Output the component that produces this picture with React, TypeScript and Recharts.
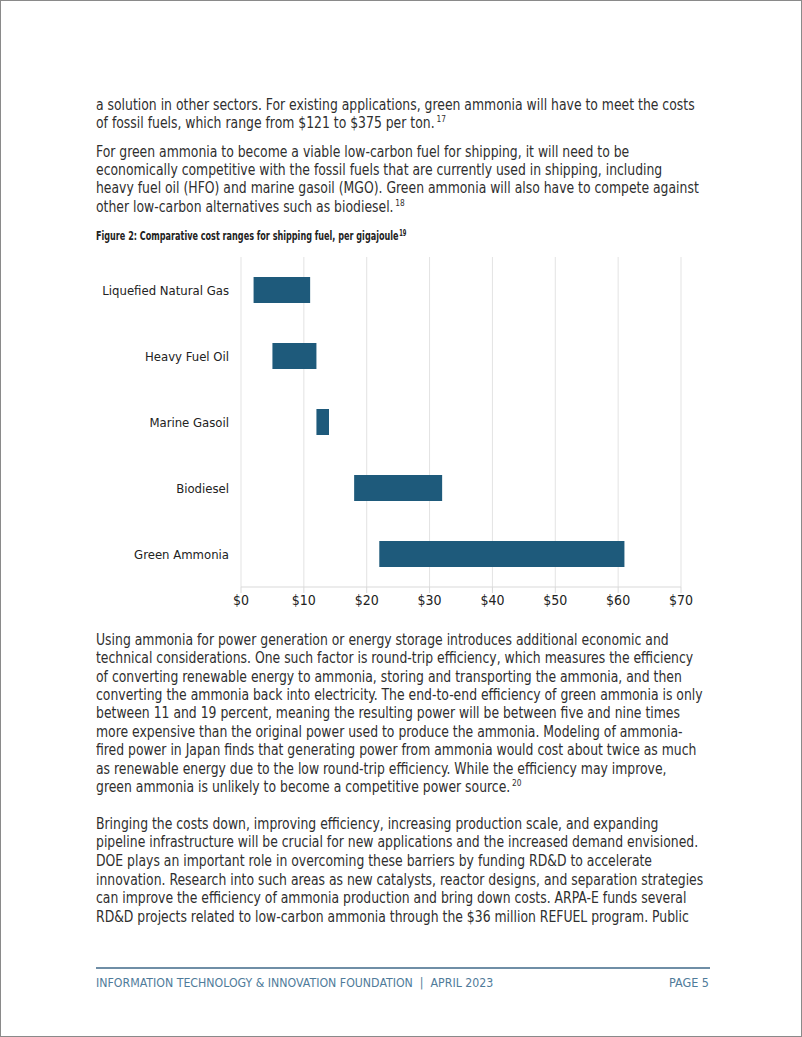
import React from "react";
import { BarChart, Bar, XAxis, YAxis, CartesianGrid } from "recharts";

// chart values ($ per gigajoule, low to high)
const fuels = ["Liquefied Natural Gas", "Heavy Fuel Oil", "Marine Gasoil", "Biodiesel", "Green Ammonia"];
const lowCost = [2, 5, 12, 18, 22];
const highCost = [11, 12, 14, 32, 61];
const xTicks = [0, 10, 20, 30, 40, 50, 60, 70];

const data = fuels.map((name, i) => ({ name, range: [lowCost[i], highCost[i]] }));

const FONT = "'Liberation Sans Narrow', 'DejaVu Sans Condensed', Roboto, sans-serif";
const TEXT = "#2f2f2f";

const para1 = [
  "a solution in other sectors. For existing applications, green ammonia will have to meet the costs",
  "of fossil fuels, which range from $121 to $375 per ton.|17",
];
const para2 = [
  "For green ammonia to become a viable low-carbon fuel for shipping, it will need to be",
  "economically competitive with the fossil fuels that are currently used in shipping, including",
  "heavy fuel oil (HFO) and marine gasoil (MGO). Green ammonia will also have to compete against",
  "other low-carbon alternatives such as biodiesel.|18",
];
const para3 = [
  "Using ammonia for power generation or energy storage introduces additional economic and",
  "technical considerations. One such factor is round-trip efficiency, which measures the efficiency",
  "of converting renewable energy to ammonia, storing and transporting the ammonia, and then",
  "converting the ammonia back into electricity. The end-to-end efficiency of green ammonia is only",
  "between 11 and 19 percent, meaning the resulting power will be between five and nine times",
  "more expensive than the original power used to produce the ammonia. Modeling of ammonia-",
  "fired power in Japan finds that generating power from ammonia would cost about twice as much",
  "as renewable energy due to the low round-trip efficiency. While the efficiency may improve,",
  "green ammonia is unlikely to become a competitive power source.|20",
];
const para4 = [
  "Bringing the costs down, improving efficiency, increasing production scale, and expanding",
  "pipeline infrastructure will be crucial for new applications and the increased demand envisioned.",
  "DOE plays an important role in overcoming these barriers by funding RD&D to accelerate",
  "innovation. Research into such areas as new catalysts, reactor designs, and separation strategies",
  "can improve the efficiency of ammonia production and bring down costs. ARPA-E funds several",
  "RD&D projects related to low-carbon ammonia through the $36 million REFUEL program. Public",
];

const supStyle = { fontSize: 9, verticalAlign: "baseline", position: "relative" as const, top: -6, marginLeft: 2 };

const Lines = ({ lines, top, lh }: { lines: string[]; top: number; lh: number }) => (
  <>
    {lines.map((l, i) => {
      const [txt, note] = l.split("|");
      return (
        <div
          key={i}
          style={{
            position: "absolute",
            left: 95,
            top: top + i * lh - lh / 2,
            height: lh,
            lineHeight: lh + "px",
            whiteSpace: "nowrap",
            fontSize: 15,
            color: TEXT,
            transform: "scaleX(0.92)",
            transformOrigin: "0 0",
          }}
        >
          {txt}
          {note && <span style={supStyle}>{note}</span>}
        </div>
      );
    })}
  </>
);

export default function App() {
  return (
    <div
      style={{
        position: "absolute",
        left: 0,
        top: 0,
        width: 802,
        height: 1037,
        boxSizing: "border-box",
        border: "1px solid #8a8a8a",
        background: "#fff",
        fontFamily: FONT,
        overflow: "hidden",
      }}
    >
      <Lines lines={para1} top={104} lh={18.3} />
      <Lines lines={para2} top={151} lh={18.3} />

      <div
        style={{
          position: "absolute",
          left: 95,
          top: 228,
          fontSize: 12.5,
          lineHeight: "14px",
          fontWeight: "bold",
          color: "#222",
          whiteSpace: "nowrap",
          transform: "scaleX(0.72)",
          transformOrigin: "0 0",
        }}
      >
        Figure 2: Comparative cost ranges for shipping fuel, per gigajoule
        <span style={{ fontSize: 8, position: "relative", top: -4, marginLeft: 1 }}>19</span>
      </div>

      <div style={{ position: "absolute", left: 90, top: 250 }}>
        <BarChart
          width={610}
          height={380}
          data={data}
          layout="vertical"
          margin={{ top: 6, right: 20, bottom: 14, left: 0 }}
        >
          <CartesianGrid horizontal={false} stroke="#e3e3e3" />
          <XAxis
            type="number"
            domain={[0, 70]}
            ticks={xTicks}
            tickFormatter={(v) => `$${v}`}
            stroke="#d9d9d9"
            tick={{ fill: "#222", fontSize: 14, fontFamily: FONT }}
            height={30}
            interval={0}
          />
          <YAxis
            type="category"
            dataKey="name"
            width={150}
            axisLine={false}
            tickLine={false}
            tickMargin={6}
            tick={{ fill: "#222", fontSize: 13, fontFamily: FONT }}
          />
          <Bar dataKey="range" fill="#1e5a7b" barSize={26} isAnimationActive={false} />
        </BarChart>
      </div>

      <Lines lines={para3} top={639} lh={18.4} />
      <Lines lines={para4} top={823} lh={18.6} />

      <div style={{ position: "absolute", left: 95, top: 966, width: 614, height: 2, background: "#6f8ea6" }} />
      <div
        style={{
          position: "absolute",
          left: 95,
          top: 974,
          width: 613,
          fontSize: 12.5,
          color: "#4f7b9a",
          display: "flex",
          justifyContent: "space-between",
          whiteSpace: "nowrap",
        }}
      >
        <span style={{ display: "inline-block", transform: "scaleX(0.98)", transformOrigin: "0 0" }}>
          INFORMATION TECHNOLOGY &amp; INNOVATION FOUNDATION &nbsp;|&nbsp; APRIL 2023
        </span>
        <span>PAGE 5</span>
      </div>
    </div>
  );
}
